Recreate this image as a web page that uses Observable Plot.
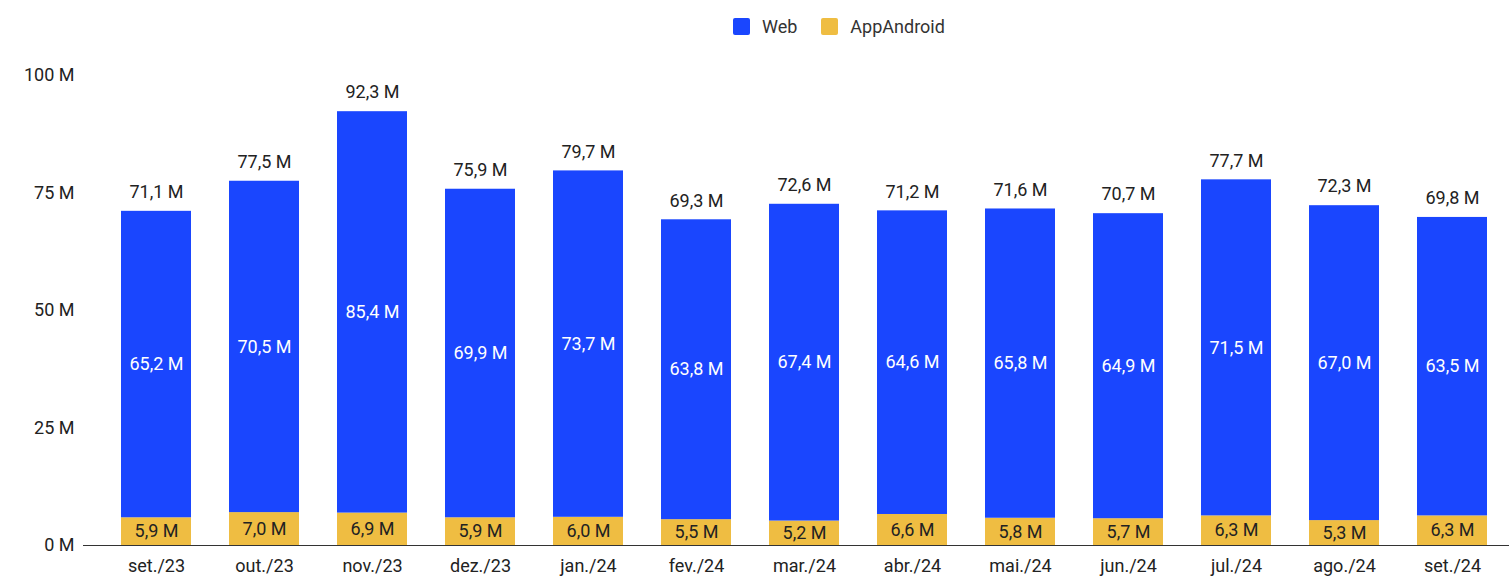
<!DOCTYPE html>
<html>
<head>
<meta charset="utf-8">
<script src="https://cdn.jsdelivr.net/npm/d3@7"></script>
<script src="https://cdn.jsdelivr.net/npm/@observablehq/plot@0.6"></script>
<style>
  html, body { margin: 0; padding: 0; background: #fff; }
  body { width: 1509px; height: 576px; overflow: hidden; font-family: Roboto, sans-serif; }
  #legend { height: 52px; display: flex; justify-content: flex-start; align-items: center; font-size: 18px; color: #333; padding-left: 733px; box-sizing: border-box; }
  .item { display: flex; align-items: center; margin-right: 24px; }
  .sw { width: 17px; height: 17px; border-radius: 2px; margin-right: 12px; }
</style>
</head>
<body>
<div id="legend"></div>
<div id="chart"></div>
<script>
const months = ["set./23","out./23","nov./23","dez./23","jan./24","fev./24","mar./24","abr./24","mai./24","jun./24","jul./24","ago./24","set./24"];
const web = [65.2, 70.5, 85.4, 69.9, 73.7, 63.8, 67.4, 64.6, 65.8, 64.9, 71.5, 67.0, 63.5];
const android = [5.9, 7.0, 6.9, 5.9, 6.0, 5.5, 5.2, 6.6, 5.8, 5.7, 6.3, 5.3, 6.3];
const totals = [71.1, 77.5, 92.3, 75.9, 79.7, 69.3, 72.6, 71.2, 71.6, 70.7, 77.7, 72.3, 69.8];
const seriesNames = ["Web", "AppAndroid"];
const seriesColors = ["#1a46fe", "#efbd42"];
const yTicks = [0, 25, 50, 75, 100];

const fmt = v => v.toFixed(1).replace(".", ",") + " M";

const long = [];
months.forEach((m, i) => {
  long.push({month: m, series: "AppAndroid", value: android[i]});
  long.push({month: m, series: "Web", value: web[i]});
});
const totalRows = months.map((m, i) => ({month: m, total: totals[i]}));

// legend
const leg = document.getElementById("legend");
seriesNames.forEach((s, i) => {
  const it = document.createElement("div");
  it.className = "item";
  it.innerHTML = `<div class="sw" style="background:${seriesColors[i]}"></div><span>${s}</span>`;
  leg.appendChild(it);
});

const order = ["AppAndroid", "Web"];
const chart = Plot.plot({
  width: 1509,
  height: 524,
  marginTop: 23,
  marginBottom: 31,
  marginLeft: 83,
  marginRight: 0,
  style: {fontFamily: "Roboto, sans-serif", fontSize: "18px", color: "#222", background: "#fff"},
  x: {domain: months, padding: 0.35, paddingOuter: 0, range: [121, 1488], label: null},
  y: {domain: [0, 100], label: null},
  color: {domain: seriesNames, range: seriesColors},
  marks: [
    Plot.barY(long, Plot.stackY({x: "month", y: "value", fill: "series", order})),
    Plot.text(long, Plot.stackY({x: "month", y: "value", z: "series", order,
      text: d => fmt(d.value),
      fill: d => d.series === "Web" ? "#ffffff" : "#222222",
      fontSize: 18})),
    Plot.text(totalRows, {x: "month", y: "total", text: d => fmt(d.total), dy: -19, fill: "#222", fontSize: 18}),
    Plot.ruleY([0], {stroke: "#333", strokeWidth: 1.2}),
    Plot.axisY({ticks: yTicks, tickSize: 0, tickPadding: 9, tickFormat: d => d + " M", fontSize: 18, label: null}),
    Plot.axisX({tickSize: 0, tickPadding: 14, fontSize: 18, label: null})
  ]
});
document.getElementById("chart").appendChild(chart);
</script>
</body>
</html>
